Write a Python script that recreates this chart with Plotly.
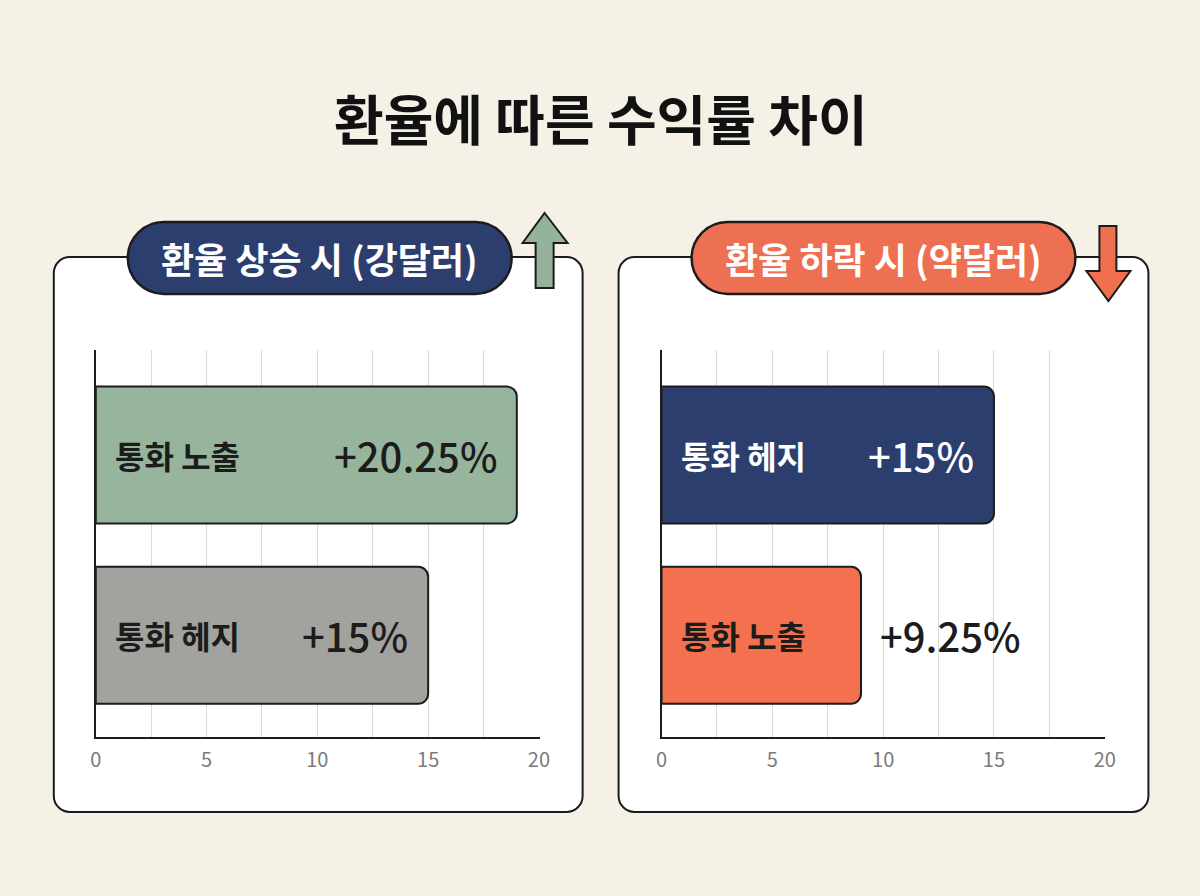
import plotly.graph_objects as go

# data
title_text = "환율에 따른 수익률 차이"
panel_titles = ["환율 상승 시 (강달러)", "환율 하락 시 (약달러)"]

up_categories = ["통화 노출", "통화 헤지"]
up_lengths = [19.0, 15.0]          # bar lengths as drawn
up_labels = ["+20.25%", "+15%"]

down_categories = ["통화 헤지", "통화 노출"]
down_lengths = [15.0, 9.0]
down_labels = ["+15%", "+9.25%"]

tick_values = [0, 5, 10, 15, 20]
tick_labels = ["0", "5", "10", "15", "20"]

# styles
W, H = 1200, 896
BG = "#f5f1e7"
INK = "#1c1c1c"
SAGE = "#97b59c"
GRAY = "#a2a29e"
NAVY = "#2c3e6d"
CORAL = "#f3714f"
FONT = "Noto Sans CJK KR"

# the captured page comes out slightly squeezed sideways, undo that here
SQUEEZE, NUDGE = 0.987, 5.2


def px(x):
    return (x - NUDGE) / SQUEEZE / W


def py(y):
    return 1 - y / H


def pt(x, y):
    return f"{px(x):.5f},{py(y):.5f}"


def round_rect(x0, y0, x1, y1, r):
    k = 0.5523 * r
    return (
        f"M{pt(x0 + r, y0)} L{pt(x1 - r, y0)} "
        f"C{pt(x1 - r + k, y0)} {pt(x1, y0 + r - k)} {pt(x1, y0 + r)} "
        f"L{pt(x1, y1 - r)} "
        f"C{pt(x1, y1 - r + k)} {pt(x1 - r + k, y1)} {pt(x1 - r, y1)} "
        f"L{pt(x0 + r, y1)} "
        f"C{pt(x0 + r - k, y1)} {pt(x0, y1 - r + k)} {pt(x0, y1 - r)} "
        f"L{pt(x0, y0 + r)} "
        f"C{pt(x0, y0 + r - k)} {pt(x0 + r - k, y0)} {pt(x0 + r, y0)} Z"
    )


def polygon(points):
    return "M" + " L".join(pt(x, y) for x, y in points) + " Z"


fig = go.Figure()

panels = [
    dict(cats=up_categories, vals=up_lengths, labels=up_labels,
         colors=[SAGE, GRAY], text_colors=[INK, INK], xa="x", ya="y",
         card=(53, 582), pill=(127, 511), pill_fill=NAVY,
         arrow=[(544, 213), (567, 243), (553, 243), (553, 288), (535, 288),
                (535, 243), (522, 243)], arrow_fill="#93b39a"),
    dict(cats=down_categories, vals=down_lengths, labels=down_labels,
         colors=[NAVY, CORAL], text_colors=["#ffffff", INK], xa="x2", ya="y2",
         card=(618, 1148), pill=(691, 1075), pill_fill="#ee7052",
         arrow=[(1099, 226), (1116, 226), (1116, 271), (1130, 271), (1108, 301),
                (1086, 271), (1099, 271)], arrow_fill="#ef6f4f"),
]

shapes = []
annotations = [dict(text=f"<b>{title_text}</b>", x=px(600), y=py(117), xref="paper", yref="paper",
                    xanchor="center", yanchor="middle", showarrow=False,
                    font=dict(family=FONT, size=54, color="#111111", weight=900))]

for i, p in enumerate(panels):
    fig.add_trace(go.Bar(
        y=p["cats"], x=p["vals"], orientation="h", width=0.76,
        marker=dict(color=p["colors"], line=dict(color=INK, width=2), cornerradius=10),
        xaxis=p["xa"], yaxis=p["ya"], hoverinfo="skip", showlegend=False,
    ))

    cx0, cx1 = p["card"]
    shapes.append(dict(type="path", path=round_rect(cx0, 257, cx1, 812, 16),
                       xref="paper", yref="paper", fillcolor="#ffffff",
                       line=dict(color=INK, width=2), layer="below"))
    qx0, qx1 = p["pill"]
    shapes.append(dict(type="path", path=round_rect(qx0, 222, qx1, 294, 36),
                       xref="paper", yref="paper", fillcolor=p["pill_fill"],
                       line=dict(color=INK, width=2.5), layer="above"))
    shapes.append(dict(type="path", path=polygon(p["arrow"]),
                       xref="paper", yref="paper", fillcolor=p["arrow_fill"],
                       line=dict(color=INK, width=2), layer="above"))
    annotations.append(dict(text=panel_titles[i], x=px((qx0 + qx1) / 2), y=py(258),
                            xref="paper", yref="paper", xanchor="center", yanchor="middle",
                            showarrow=False,
                            font=dict(family=FONT, size=36, color="#ffffff", weight=700)))

    for cat, val, lab, tc in zip(p["cats"], p["vals"], p["labels"], p["text_colors"]):
        annotations.append(dict(text=cat, x=0, y=cat, xref=p["xa"], yref=p["ya"],
                                xanchor="left", yanchor="middle", xshift=17, showarrow=False,
                                font=dict(family=FONT, size=32, color=tc, weight=700)))
        inside = val >= 12
        annotations.append(dict(text=lab, x=val, y=cat, xref=p["xa"], yref=p["ya"],
                                xanchor="right" if inside else "left", yanchor="middle",
                                xshift=-18 if inside else 17, showarrow=False,
                                font=dict(family=FONT, size=40,
                                          color=tc if inside else INK, weight=500)))

axis_x = dict(range=[0, 20.03], tickvals=tick_values, ticktext=tick_labels,
              showgrid=True, gridcolor="#dadada", gridwidth=1,
              minor=dict(dtick=2.5, tick0=0, showgrid=True, gridcolor="#dadada", gridwidth=1),
              showline=True, linecolor=INK, linewidth=2, zeroline=False,
              ticks="", ticklabelstandoff=4,
              tickfont=dict(family=FONT, size=20, color="#7a7a7a"), fixedrange=True)
axis_y = dict(range=[1.564, -0.583], showline=True, linecolor=INK, linewidth=2,
              showticklabels=False, showgrid=False, zeroline=False, ticks="", fixedrange=True)

fig.update_layout(
    width=W, height=H, margin=dict(l=0, r=0, t=0, b=0),
    paper_bgcolor=BG, plot_bgcolor="rgba(0,0,0,0)",
    xaxis=dict(axis_x, domain=[px(95), px(1105 - 566)], anchor="y"),
    yaxis=dict(axis_y, domain=[py(737), py(350)], anchor="x"),
    xaxis2=dict(axis_x, domain=[px(661), px(1105)], anchor="y2"),
    yaxis2=dict(axis_y, domain=[py(737), py(350)], anchor="x2"),
    shapes=shapes, annotations=annotations, bargap=0,
)

# drop the browser's default page margin so the figure fills the window
page_js = ("document.body.style.margin='0';"
           "document.body.style.background='%s';"
           "document.body.style.overflow='hidden';" % BG)
fig.write_html("out.html", post_script=page_js,
               config=dict(displayModeBar=False, responsive=False, staticPlot=True))
